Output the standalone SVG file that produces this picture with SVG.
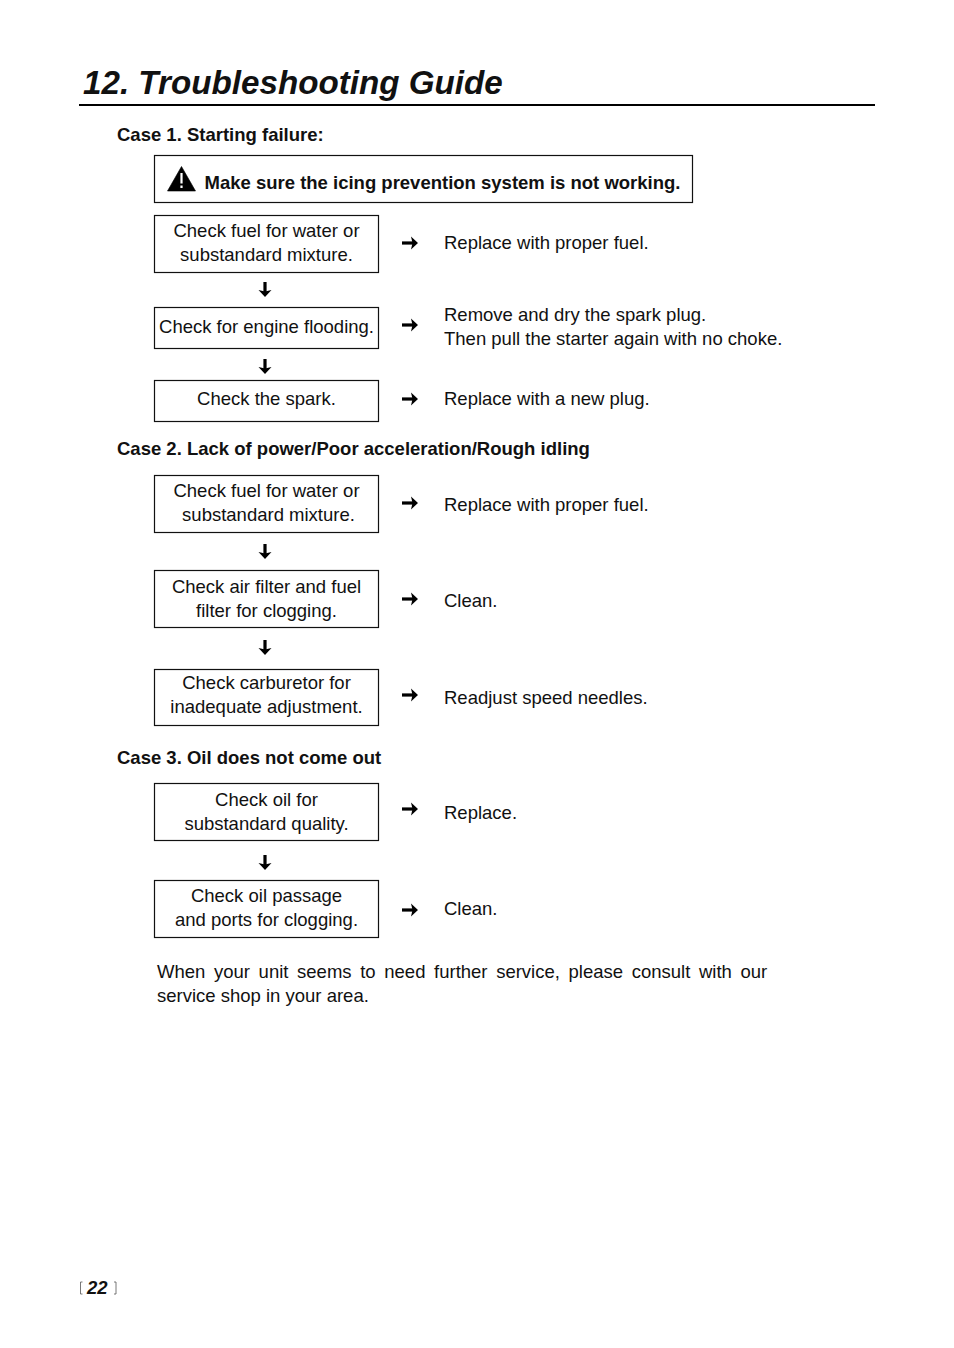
<svg xmlns="http://www.w3.org/2000/svg" width="954" height="1348" viewBox="0 0 954 1348">
<style>
text{font-family:"Liberation Sans",Arial,sans-serif;font-size:18.5px;fill:#111}
.c{text-anchor:middle}
.b{font-weight:bold}
rect.n{fill:#fff;stroke:#111;stroke-width:1.2}
.a{fill:none;stroke:#000;stroke-width:3.2}
.h{fill:#000}
</style>
<defs>
<g id="ra"><path class="a" d="M-8 0H3"/><path class="h" d="M1-6.500L8 0L1 6.500L2.500 0Z"/></g>
<g id="da"><path class="a" d="M0-7V3"/><path class="h" d="M-6.500 1L0 8L6.500 1L0 2.500Z"/></g>
</defs>
<rect width="954" height="1348" fill="#fff"/>
<g id="title">
<text x="83" y="94" style="font-size:33.200px;font-weight:bold;font-style:italic">12. Troubleshooting Guide</text>
<path d="M79 105H875" stroke="#000" stroke-width="2" fill="none"/>
</g>
<text x="117" y="141" class="b">Case 1. Starting failure:</text>
<g id="warning">
<rect class="n" x="154.500" y="155.500" width="538" height="47"/>
<path d="M181.500 166.500L195.500 191H167.500Z" fill="#000" stroke="#000" stroke-width="0.600"/>
<path d="M181.500 173V183.500M181.500 185.500V188" stroke="#fff" stroke-width="2.200" fill="none"/>
<text x="204.500" y="189" class="b">Make sure the icing prevention system is not working.</text>
</g>
<g id="n1"><rect class="n" x="154.500" y="215.500" width="224" height="57"/><text x="266.500" y="237" class="c">Check fuel for water or</text><text x="266.500" y="261" class="c">substandard mixture.</text></g>
<g id="n2"><rect class="n" x="154.500" y="307.500" width="224" height="41"/><text x="266.500" y="333" class="c">Check for engine flooding.</text></g>
<g id="n3"><rect class="n" x="154.500" y="380.500" width="224" height="41"/><text x="266.500" y="405" class="c">Check the spark.</text></g>
<g id="r1"><text x="444" y="249">Replace with proper fuel.</text></g>
<g id="r2"><text x="444" y="321">Remove and dry the spark plug.</text><text x="444" y="345">Then pull the starter again with no choke.</text></g>
<g id="r3"><text x="444" y="405">Replace with a new plug.</text></g>
<text x="117" y="455" class="b">Case 2. Lack of power/Poor acceleration/Rough idling</text>
<g id="n4"><rect class="n" x="154.500" y="475.500" width="224" height="57"/><text x="266.500" y="497" class="c">Check fuel for water or</text><text x="268.500" y="521" class="c">substandard mixture.</text></g>
<g id="n5"><rect class="n" x="154.500" y="570.500" width="224" height="57"/><text x="266.500" y="593" class="c">Check air filter and fuel</text><text x="266.500" y="617" class="c">filter for clogging.</text></g>
<g id="n6"><rect class="n" x="154.500" y="669.500" width="224" height="56"/><text x="266.500" y="689" class="c">Check carburetor for</text><text x="266.500" y="713" class="c">inadequate adjustment.</text></g>
<g id="r4"><text x="444" y="511">Replace with proper fuel.</text></g>
<g id="r5"><text x="444" y="607">Clean.</text></g>
<g id="r6"><text x="444" y="704">Readjust speed needles.</text></g>
<text x="117" y="764" class="b">Case 3. Oil does not come out</text>
<g id="n7"><rect class="n" x="154.500" y="783.500" width="224" height="57"/><text x="266.500" y="806" class="c">Check oil for</text><text x="266.500" y="830" class="c">substandard quality.</text></g>
<g id="n8"><rect class="n" x="154.500" y="880.500" width="224" height="57"/><text x="266.500" y="902" class="c">Check oil passage</text><text x="266.500" y="926" class="c">and ports for clogging.</text></g>
<g id="r7"><text x="444" y="819">Replace.</text></g>
<g id="r8"><text x="444" y="915">Clean.</text></g>
<g id="note">
<text x="157" y="978" word-spacing="3.500">When your unit seems to need further service, please consult with our</text>
<text x="157" y="1002">service shop in your area.</text>
</g>
<g id="page">
<text x="87" y="1294" class="b" style="font-style:italic">22</text>
<path d="M82.500 1282H80.500V1294H82.500M114 1282H116V1294H114" fill="none" stroke="#555" stroke-width="0.800"/>
</g>
<g id="connectors">
<use href="#ra" x="410" y="243"/><use href="#ra" x="410" y="325"/><use href="#ra" x="410" y="399"/>
<use href="#ra" x="410" y="503"/><use href="#ra" x="410" y="599"/><use href="#ra" x="410" y="695"/>
<use href="#ra" x="410" y="809"/><use href="#ra" x="410" y="910"/>
<use href="#da" x="265" y="289"/><use href="#da" x="265" y="366"/><use href="#da" x="265" y="551"/>
<use href="#da" x="265" y="647"/><use href="#da" x="265" y="862"/>
</g>
</svg>
